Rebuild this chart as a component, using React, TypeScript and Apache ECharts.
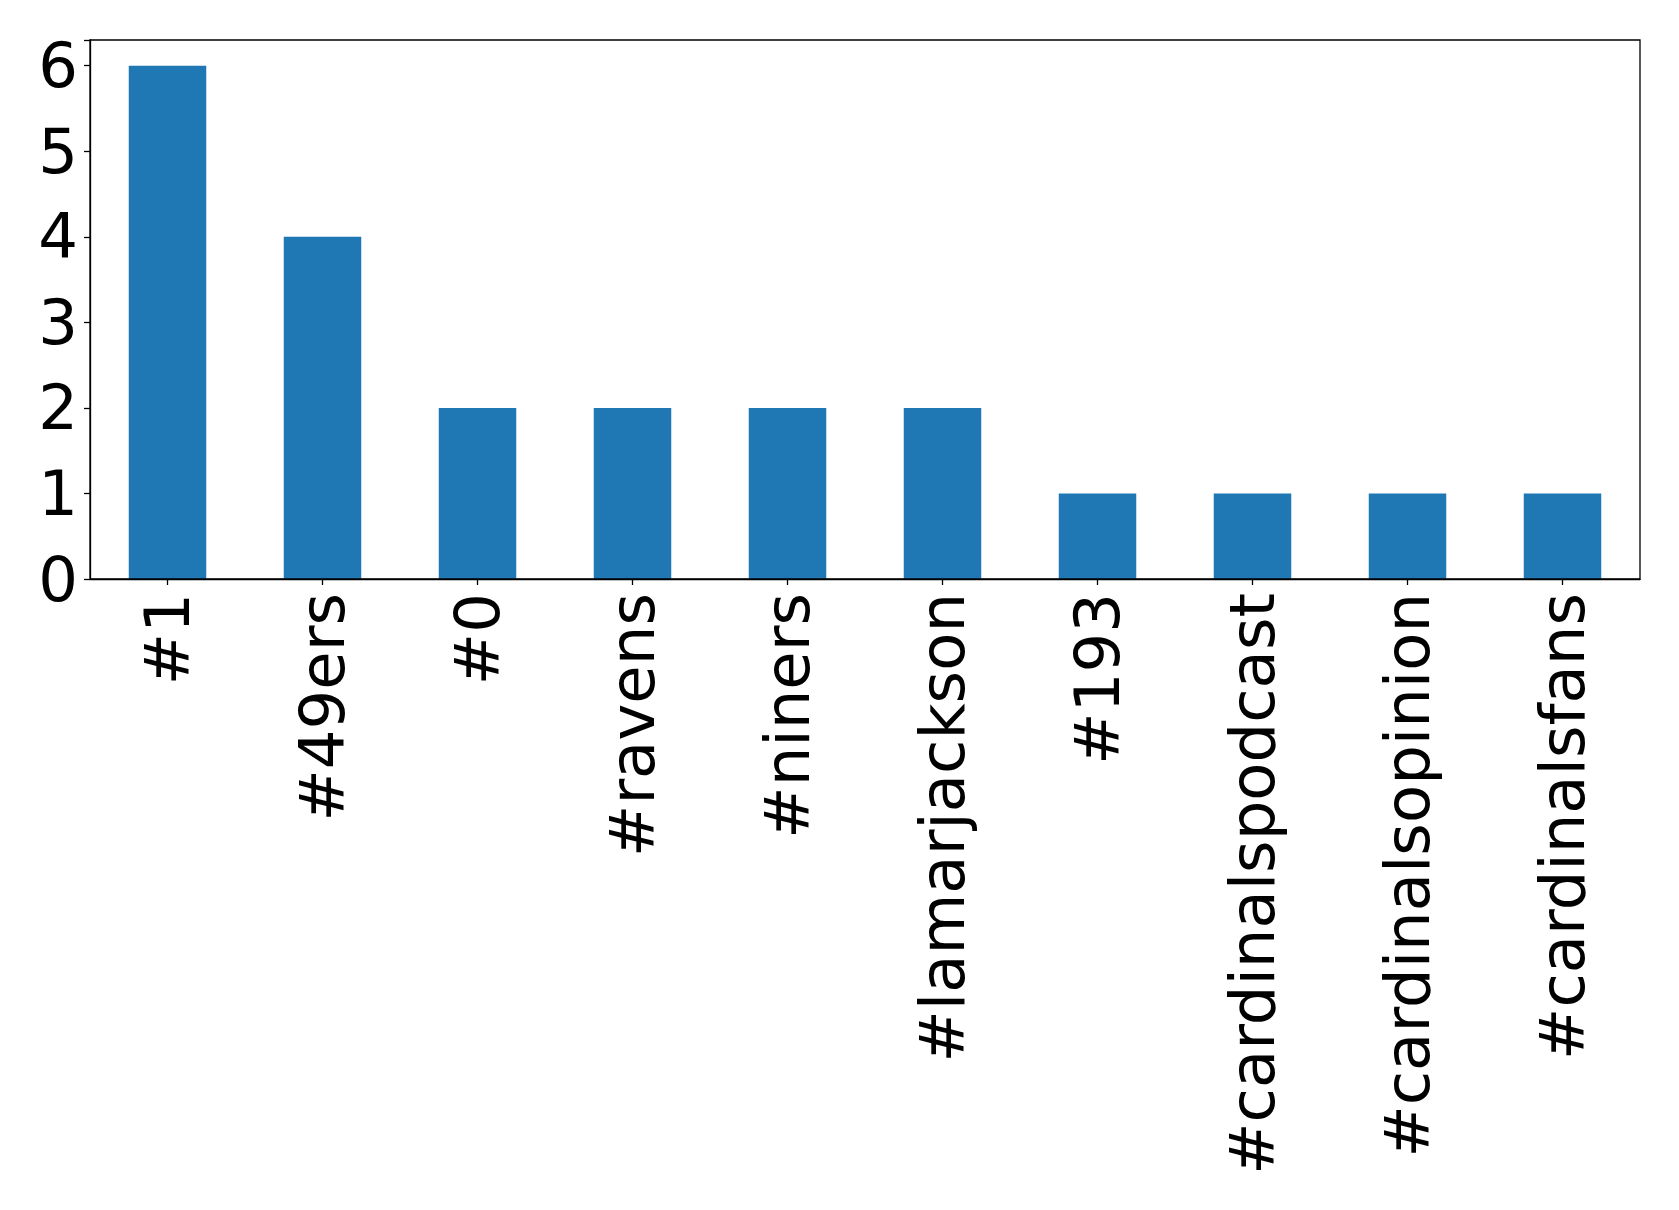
import React, { useEffect, useRef } from "react";
import * as echarts from "echarts";

const categories = [
  "#1",
  "#49ers",
  "#0",
  "#ravens",
  "#niners",
  "#lamarjackson",
  "#193",
  "#cardinalspodcast",
  "#cardinalsopinion",
  "#cardinalsfans",
];
const counts = [6, 4, 2, 2, 2, 2, 1, 1, 1, 1];
const yTicks = [0, 1, 2, 3, 4, 5, 6];

export default function App() {
  const ref = useRef<HTMLDivElement>(null);
  useEffect(() => {
    document.body.style.margin = "0";
    if (!ref.current) return;
    const chart = echarts.init(ref.current, null, { renderer: "svg" });
    const font = "DejaVu Sans";
    chart.setOption({
      animation: false,
      backgroundColor: "#ffffff",
      grid: { left: 90, top: 40, width: 1550, height: 539, containLabel: false },
      xAxis: {
        type: "category",
        data: categories,
        boundaryGap: true,
        axisLine: { show: true, lineStyle: { color: "#000", width: 1.3 } },
        axisTick: { show: true, alignWithLabel: true, length: 6, lineStyle: { color: "#000", width: 1.3 } },
        axisLabel: {
          rotate: 90,
          interval: 0,
          margin: 14,
          fontSize: 62.5,
          fontFamily: font,
          color: "#000",
        },
        splitLine: { show: false },
      },
      yAxis: {
        type: "value",
        min: 0,
        max: 6.3,
        interval: 1,
        axisLine: { show: true, lineStyle: { color: "#000", width: 1.3 } },
        axisTick: { show: true, length: 6, lineStyle: { color: "#000", width: 1.3 } },
        axisLabel: {
          margin: 12,
          fontSize: 62.5,
          fontFamily: font,
          color: "#000",
          formatter: (v: number) => (yTicks.includes(v) ? String(v) : ""),
        },
        splitLine: { show: false },
      },
      graphic: [
        {
          type: "rect",
          shape: { x: 90, y: 40, width: 1550, height: 539 },
          style: { fill: "none", stroke: "#000", lineWidth: 1.3 },
          silent: true,
          z: 10,
        },
      ],
      series: [
        {
          type: "bar",
          data: counts,
          barWidth: "50%",
          itemStyle: { color: "#1f77b4" },
        },
      ],
    });
    return () => chart.dispose();
  }, []);
  return <div ref={ref} style={{ width: 1679, height: 1210 }} />;
}
